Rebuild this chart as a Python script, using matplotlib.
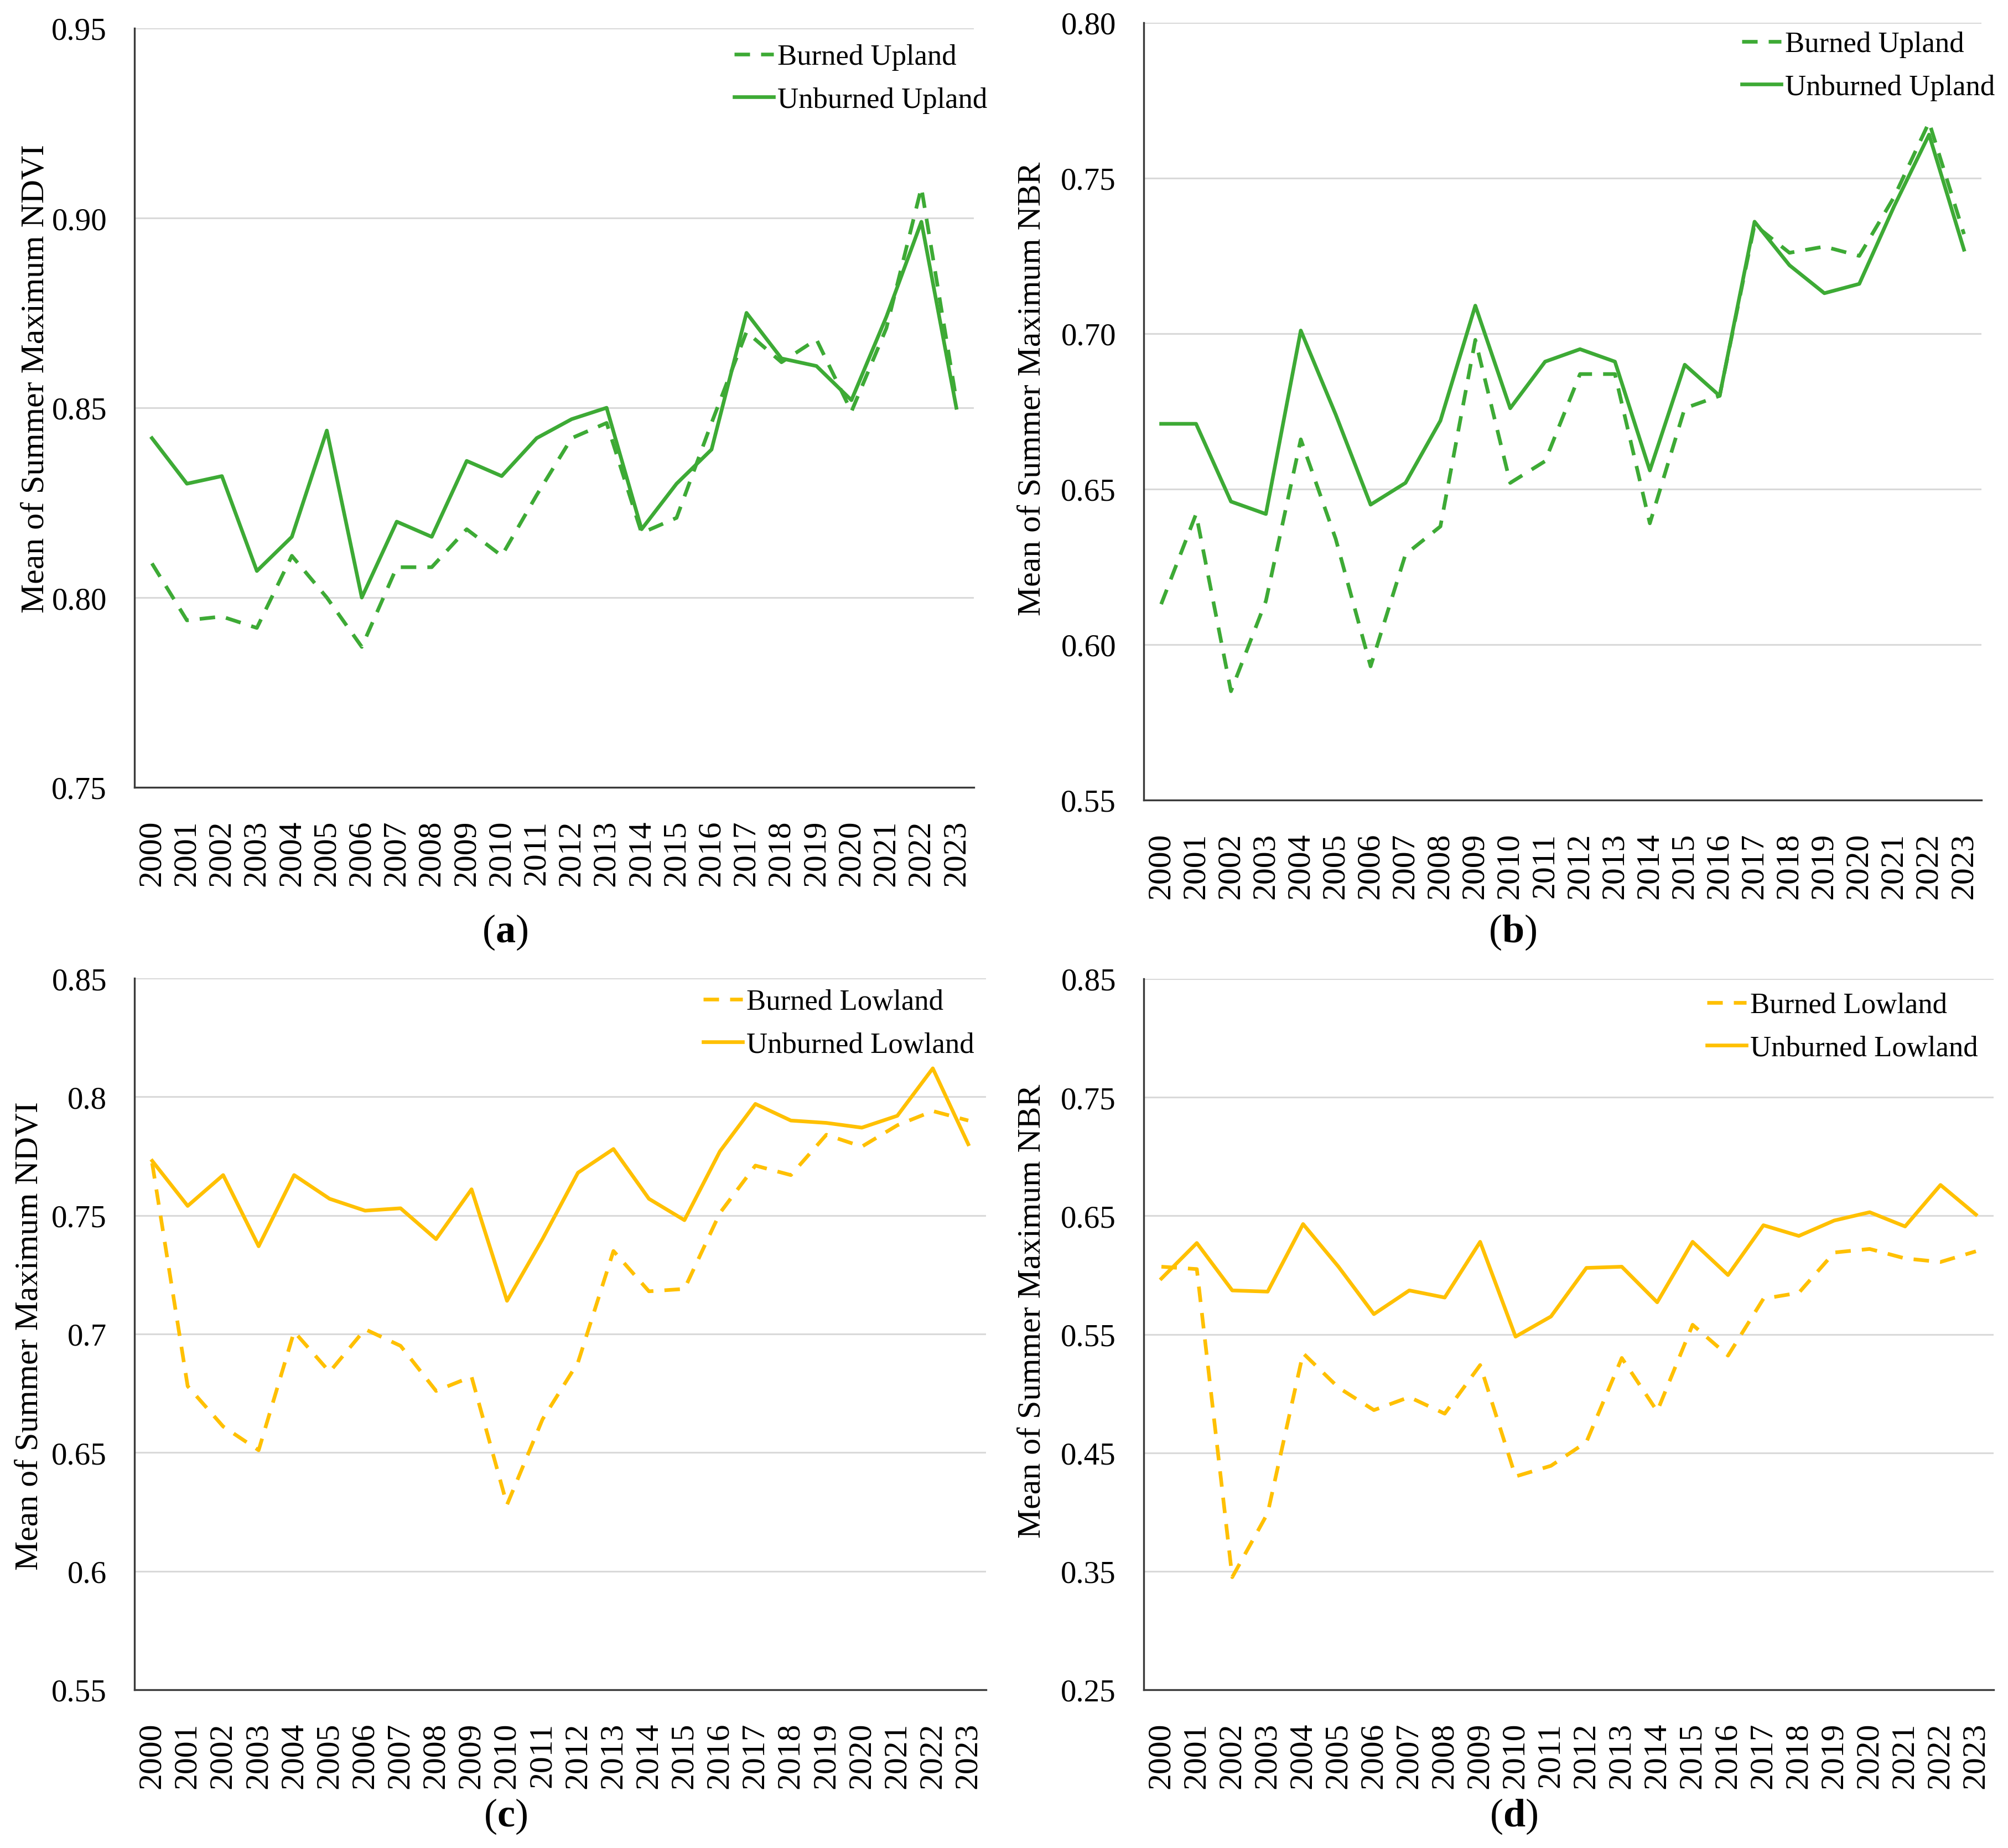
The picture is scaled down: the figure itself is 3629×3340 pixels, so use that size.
import matplotlib.pyplot as plt
import numpy as np

plt.rcParams['font.family'] = ['Liberation Serif', 'DejaVu Serif']
plt.rcParams['mathtext.fontset'] = 'custom'
plt.rcParams['mathtext.rm'] = 'Liberation Serif'
plt.rcParams['mathtext.bf'] = 'Liberation Serif:bold'

years = [str(y) for y in range(2000, 2024)]

# (a) NDVI upland
ndvi_burned_up = [0.809, 0.794, 0.795, 0.792, 0.811, 0.800, 0.787, 0.808, 0.808, 0.818,
                  0.811, 0.827, 0.842, 0.846, 0.817, 0.821, 0.846, 0.870, 0.862, 0.868,
                  0.849, 0.871, 0.908, 0.852]
ndvi_unburned_up = [0.842, 0.830, 0.832, 0.807, 0.816, 0.844, 0.800, 0.820, 0.816, 0.836,
                    0.832, 0.842, 0.847, 0.850, 0.818, 0.830, 0.839, 0.875, 0.863, 0.861,
                    0.852, 0.874, 0.899, 0.850]

# (b) NBR upland
nbr_burned_up = [0.613, 0.642, 0.585, 0.614, 0.666, 0.634, 0.593, 0.629, 0.638, 0.698,
                 0.652, 0.659, 0.687, 0.687, 0.639, 0.676, 0.680, 0.735, 0.726, 0.728,
                 0.725, 0.744, 0.768, 0.732]
nbr_unburned_up = [0.671, 0.671, 0.646, 0.642, 0.701, 0.674, 0.645, 0.652, 0.672, 0.709,
                   0.676, 0.691, 0.695, 0.691, 0.656, 0.690, 0.680, 0.736, 0.722, 0.713,
                   0.716, 0.741, 0.764, 0.727]

# (c) NDVI lowland
ndvi_burned_low = [0.772, 0.678, 0.661, 0.651, 0.701, 0.684, 0.702, 0.695, 0.676, 0.682,
                   0.628, 0.664, 0.688, 0.735, 0.718, 0.719, 0.751, 0.771, 0.767, 0.784,
                   0.779, 0.788, 0.794, 0.790]
ndvi_unburned_low = [0.773, 0.754, 0.767, 0.737, 0.767, 0.757, 0.752, 0.753, 0.740, 0.761,
                     0.714, 0.740, 0.768, 0.778, 0.757, 0.748, 0.777, 0.797, 0.790, 0.789,
                     0.787, 0.792, 0.812, 0.780]

# (d) NBR lowland
nbr_burned_low = [0.607, 0.605, 0.345, 0.399, 0.534, 0.505, 0.486, 0.497, 0.483, 0.524,
                  0.430, 0.439, 0.459, 0.530, 0.485, 0.558, 0.532, 0.580, 0.585, 0.619,
                  0.622, 0.614, 0.611, 0.620]
nbr_unburned_low = [0.597, 0.627, 0.587, 0.586, 0.643, 0.607, 0.567, 0.587, 0.581, 0.628,
                    0.548, 0.565, 0.606, 0.607, 0.577, 0.628, 0.600, 0.642, 0.633, 0.646,
                    0.653, 0.641, 0.676, 0.651]

GREEN = '#3DAA35'
YELLOW = '#FFC000'
W, H = 3630, 3341

fig = plt.figure(figsize=(W / 100, H / 100), dpi=100)


def px_axes(left, top, right, bottom):
    return fig.add_axes([left / W, 1 - bottom / H, (right - left) / W, (bottom - top) / H])


def panel(box, burned, unburned, color, names, ylim, step, ylabel, fmt,
          lab_x, lab_y, leg_x, leg_y, letter, letter_xy):
    left, top, right, bottom = box
    ax = px_axes(left, top, right, bottom)
    x = np.arange(len(years))
    ax.plot(x, burned, color=color, lw=4.8, dashes=(4.2, 3.0), label=names[0])
    ax.plot(x, unburned, color=color, lw=4.8, label=names[1])
    ax.set_xlim(-0.5, len(years) - 0.5)
    ax.set_ylim(*ylim)
    ax.set_yticks(np.arange(ylim[0], ylim[1] + step / 2, step))
    ax.yaxis.set_major_formatter(plt.FuncFormatter(fmt))
    ax.set_xticks(x)
    ax.set_xticklabels(years, rotation=90, fontsize=43)
    ax.tick_params(axis='y', labelsize=41, length=0, pad=36)
    ax.tick_params(axis='x', length=0, pad=42)
    ax.grid(axis='y', color='#D9D9D9', lw=2.2)
    ax.set_axisbelow(True)
    for s in ['top', 'right']:
        ax.spines[s].set_visible(False)
    for s in ['left', 'bottom']:
        ax.spines[s].set_color('#3a3a3a')
        ax.spines[s].set_linewidth(2.4)
    ax.set_ylabel(ylabel, fontsize=43)
    ax.yaxis.set_label_coords((lab_x - left) / (right - left), (bottom - lab_y) / (bottom - top))
    ax.legend(loc='center left', frameon=False, fontsize=38,
              bbox_to_anchor=((leg_x - left) / (right - left), (bottom - leg_y) / (bottom - top)),
              borderaxespad=0, borderpad=0, handlelength=1.35, handletextpad=0.12,
              labelspacing=0.55)
    fig.text(letter_xy[0] / W, 1 - letter_xy[1] / H, r'($\mathbf{' + letter + '}$)',
             fontsize=52, ha='center', va='center')
    return ax


two_dec = lambda v, p: f'{v:.2f}'
general = lambda v, p: '%g' % round(v, 2)

panel((243, 52, 1760, 1424), ndvi_burned_up, ndvi_unburned_up, GREEN,
      ['Burned Upland', 'Unburned Upland'], (0.75, 0.95), 0.05,
      'Mean of Summer Maximum NDVI', two_dec, 92, 685, 1327, 143, 'a', (913, 1685))

panel((2067, 42, 3581, 1447), nbr_burned_up, nbr_unburned_up, GREEN,
      ['Burned Upland', 'Unburned Upland'], (0.55, 0.80), 0.05,
      'Mean of Summer Maximum NBR', two_dec, 1893, 703, 3148, 120, 'b', (2734, 1685))

panel((243, 1769, 1782, 3055), ndvi_burned_low, ndvi_unburned_low, YELLOW,
      ['Burned Lowland', 'Unburned Lowland'], (0.55, 0.85), 0.05,
      'Mean of Summer Maximum NDVI', general, 81, 2415, 1271, 1851, 'c', (914, 3283))

panel((2067, 1770, 3603, 3055), nbr_burned_low, nbr_unburned_low, YELLOW,
      ['Burned Lowland', 'Unburned Lowland'], (0.25, 0.85), 0.10,
      'Mean of Summer Maximum NBR', two_dec, 1893, 2370, 3085, 1857, 'd', (2736, 3283))

fig.savefig('out.png', dpi=100, facecolor='white')
